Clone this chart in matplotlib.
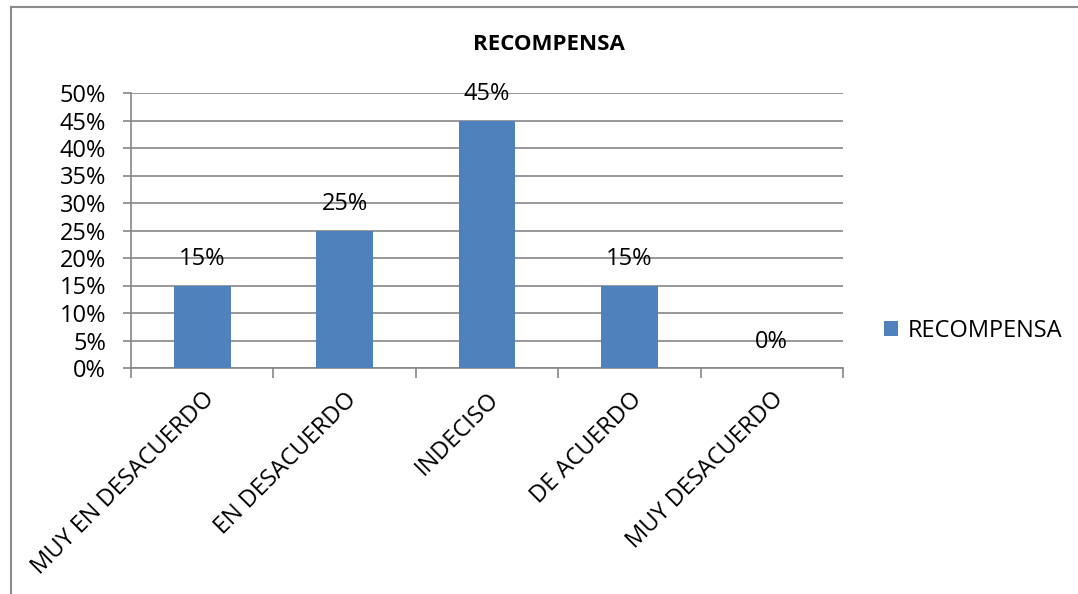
import matplotlib.pyplot as plt
from matplotlib.lines import Line2D

categories = ["MUY EN DESACUERDO", "EN DESACUERDO", "INDECISO", "DE ACUERDO", "MUY DESACUERDO"]
values = [15, 25, 45, 15, 0]
yticks = [0, 5, 10, 15, 20, 25, 30, 35, 40, 45, 50]
series_name = "RECOMPENSA"

plt.rcParams['font.family'] = ['Open Sans', 'DejaVu Sans']

W, H = 1078, 594
fig = plt.figure(figsize=(W / 100, H / 100), dpi=100)
ax = fig.add_axes([131 / W, 1 - 368 / H, (843 - 131) / W, (368 - 93) / H])

bar_color = "#4F81BD"
grid_color = "#868686"
fs = 17

x = list(range(len(categories)))
bars = ax.bar(x, values, width=0.4, color=bar_color, zorder=3, label=series_name)

for xi, v in zip(x, values):
    ax.annotate(f"{v}%", (xi, v), xytext=(0, 19), textcoords="offset points",
                ha="center", va="center", fontsize=fs, color="black", zorder=4)

ax.set_xlim(-0.5, len(categories) - 0.5)
ax.set_ylim(0, 50)
ax.set_yticks(yticks)
ax.set_yticklabels([f"{t}%" for t in yticks], fontsize=fs)
ax.yaxis.grid(True, color=grid_color, linewidth=1.2, zorder=0)
ax.tick_params(axis='y', length=6, width=1.2, color=grid_color, pad=12)

# category boundary ticks along the bottom
ax.set_xticks([i - 0.5 for i in range(len(categories) + 1)], minor=False)
ax.set_xticklabels([])
ax.tick_params(axis='x', which='major', length=7, width=1.2, color=grid_color, direction='out')
ax.set_xticks(x, minor=True)
ax.set_xticklabels(categories, minor=True, rotation=45, ha='right',
                   rotation_mode='anchor', fontsize=fs)
ax.tick_params(axis='x', which='minor', length=0, pad=14)

for side in ['top', 'right']:
    ax.spines[side].set_visible(False)
for side in ['left', 'bottom']:
    ax.spines[side].set_color(grid_color)
    ax.spines[side].set_linewidth(1.2)

fig.text(549 / W, 1 - 45 / H, "RECOMPENSA", ha='center', va='center',
         fontsize=16, fontweight='bold')

fig.legend(handles=[bars], labels=[series_name], loc='center left',
           bbox_to_anchor=(863 / W, 1 - 331 / H), frameon=False, fontsize=fs,
           handlelength=0.6, handleheight=0.6, handletextpad=0.4)

# outer chart frame
fig.add_artist(Line2D([11 / W, 11 / W], [0, 1 - 7 / H], color="#8c8c8c", linewidth=1.5))
fig.add_artist(Line2D([11 / W, 1], [1 - 7 / H, 1 - 7 / H], color="#8c8c8c", linewidth=1.5))

fig.savefig("out.png", dpi=100, facecolor="white")
